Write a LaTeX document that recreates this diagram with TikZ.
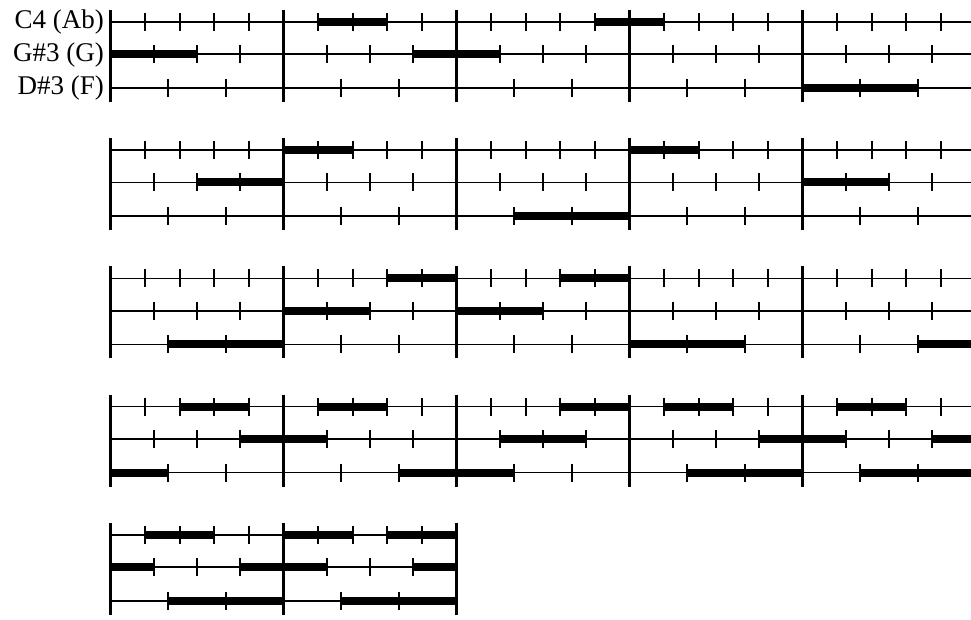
\documentclass[tikz,border=0pt]{standalone}
\usepackage{fontspec}
\setmainfont{Liberation Serif}
\begin{document}
\begin{tikzpicture}[x=1pt, y=-1pt,
  staff/.style={line width=1.7pt},
  tickmark/.style={line width=2pt},
  barline/.style={line width=2.4pt},
  notebar/.style={line width=8pt},
  every node/.style={font=\fontsize{27}{30}\selectfont, inner sep=0pt}]

\useasboundingbox (0,0) rectangle (971,620);
\clip (0,0) rectangle (971,620);

% ---- voice names ----
\node (lbl-c4) at (104,29) [anchor=base east] {C4 (Ab)};
\node (lbl-gs3) at (104,61.3) [anchor=base east] {G\#3 (G)};
\node (lbl-ds3) at (104,95) [anchor=base east] {D\#3 (F)};

% ---- notes (row/from/to, counted in the voice's own beats) ----
% C4: five beats a bar
\foreach \r/\a/\b in {0/6/8, 0/14/16, 1/5/7, 1/15/17, 2/8/10, 2/13/15,
    3/2/4, 3/6/8, 3/13/15, 3/16/18, 3/21/23, 4/1/3, 4/5/7, 4/8/10}
  \draw[notebar] ({110.5+173*\a/5},{22+128.2*\r}) -- ({110.5+173*\b/5},{22+128.2*\r});
% G#3: four beats a bar
\foreach \r/\a/\b in {0/0/2, 0/7/9, 1/2/4, 1/16/18, 2/4/6, 2/8/10,
    3/3/5, 3/9/11, 3/15/17, 3/19/21, 4/0/1, 4/3/5, 4/7/8}
  \draw[notebar] ({110.5+173*\a/4},{54.3+128.2*\r}) -- ({110.5+173*\b/4},{54.3+128.2*\r});
% D#3: three beats a bar
\foreach \r/\a/\b in {0/12/14, 1/7/9, 2/1/3, 2/9/11, 2/14/16,
    3/0/1, 3/5/7, 3/10/12, 3/13/15, 4/1/3, 4/4/6}
  \draw[notebar] ({110.5+173*\a/3},{88+128.2*\r}) -- ({110.5+173*\b/3},{88+128.2*\r});

% ---- staves, beat ticks and bar lines ----
\foreach \r/\nbar in {0/5, 1/5, 2/5, 3/5, 4/2} {
  \begin{scope}[shift={(0,128.2*\r)}]
    \foreach \n/\y in {5/22, 4/54.3, 3/88} {
      \draw[staff] (110.5,\y) -- ({110.5+173*\nbar},\y);
      \pgfmathtruncatemacro\last{\n*\nbar-1}
      \foreach \d in {1,...,\last} {
        \pgfmathtruncatemacro\m{mod(\d,\n)}
        \ifnum\m>0
          \draw[tickmark] ({110.5+173*\d/\n},\y-9) -- ++(0,18);
        \fi
      }
    }
    \foreach \b in {0,...,\nbar}
      \draw[barline] ({110.5+173*\b},10) -- ++(0,92);
  \end{scope}
}
\end{tikzpicture}
\end{document}
